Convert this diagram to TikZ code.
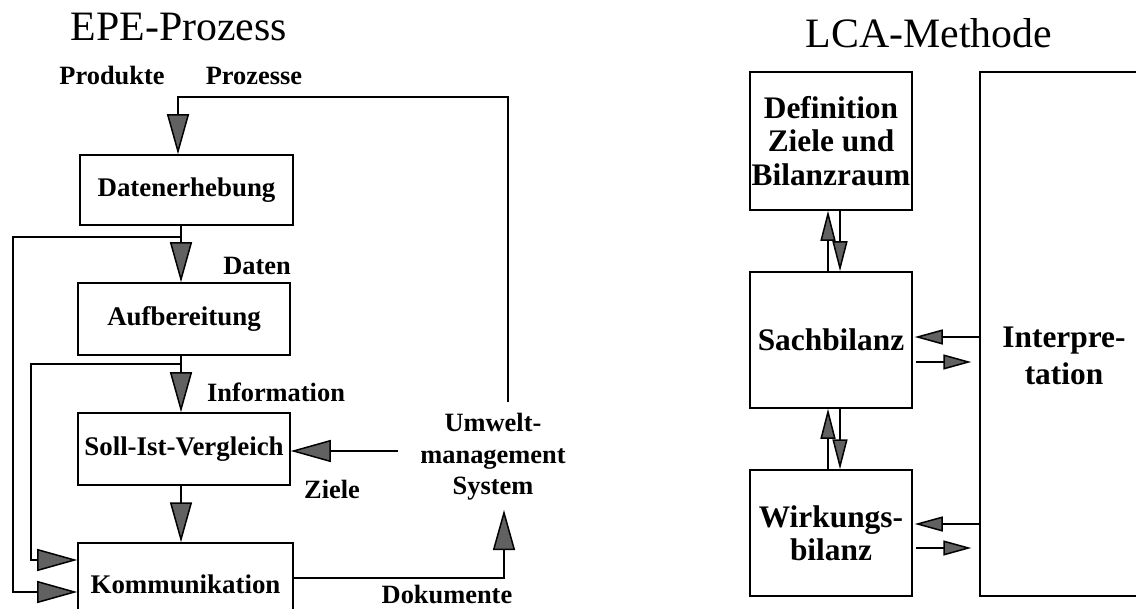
\documentclass[tikz,border=0pt]{standalone}
\usepackage{fontspec}
\setmainfont{Liberation Serif}
\usetikzlibrary{arrows.meta,calc}
\tikzset{
  ln/.style={line width=1.5bp},
  box/.style={draw, ln, inner sep=0pt, font=\bfseries\fontsize{27}{30}\selectfont},
  rbox/.style={draw, ln, inner sep=0pt, align=center, font=\bfseries\fontsize{31.5}{33.5}\selectfont},
  big/.style={ln, -{Triangle[length=40bp,width=22bp,fill=black!62]}},
  mid/.style={ln, -{Triangle[length=30bp,width=15bp,fill=black!62]}},
  small/.style={ln, -{Triangle[length=28bp,width=15bp,fill=black!62]}},
  lbl/.style={inner sep=0pt, font=\bfseries\fontsize{26.5}{31.5}\selectfont},
  rlbl/.style={inner sep=0pt, align=center, font=\bfseries\fontsize{31.5}{37}\selectfont},
  ttl/.style={inner sep=0pt, font=\fontsize{42}{46}\selectfont},
}
\begin{document}
\begin{tikzpicture}[x=1bp,y=-1bp]
\useasboundingbox (0,0) rectangle (1136,609);
\clip (0,0) rectangle (1136,609);

% ---------- left: EPE-Prozess ----------
\node[ttl] (t1) at (179,27) {EPE-Prozess};
\node[lbl] (prod) at (112,76) {Produkte};
\node[lbl] (proz) at (254,76) {Prozesse};

\node[box, minimum width=213bp, minimum height=70bp] (dat) at (186.5,190) {Datenerhebung};
\node[box, minimum width=212bp, minimum height=72bp] (auf) at (184,319) {Aufbereitung};
\node[box, minimum width=212bp, minimum height=72bp] (soll) at (184,449) {Soll-Ist-Vergleich};
\node[box, minimum width=215bp, minimum height=82bp] (kom) at (185.5,584) {Kommunikation};

\node[lbl, align=center] (ums) at (493,457) {Umwelt-\\management\\System};

\node[lbl] (ldaten) at (257,266) {Daten};
\node[lbl] (linfo) at (276,392) {Information};
\node[lbl] (lziele) at (332,489) {Ziele};
\node[lbl] (ldok) at (447,594) {Dokumente};

\coordinate (utop) at (508,402);
\coordinate (ptop) at (178,97);
\coordinate (j1) at (181,237);
\coordinate (j2) at (181,364);
\coordinate (l1) at (13,592);
\coordinate (l2) at (31,560);
\coordinate (zs) at (398,451);
\coordinate (dy) at (0,578);
\coordinate (dk) at (504,510);

\draw[big] (utop) |- (ptop) -- (ptop |- dat.north);
\draw[big] (dat.south -| j1) -- (auf.north -| j1);
\draw[big] (j1) -| (l1) -- (l1 -| kom.west);
\draw[big] (auf.south -| j2) -- (soll.north -| j2);
\draw[big] (j2) -| (l2) -- (l2 -| kom.west);
\draw[big] (soll.south -| j2) -- (kom.north -| j2);
\draw[big] (zs) -- (zs -| soll.east);
\draw[big] (kom.east |- dy) -| (dk);

% ---------- right: LCA-Methode ----------
\node[ttl] (t2) at (929,33) {LCA-Methode};

\node[rbox, minimum width=162bp, minimum height=138bp] (def) at (831,141) {Definition\\Ziele und\\Bilanzraum};
\node[rbox, minimum width=162bp, minimum height=136bp] (sach) at (831,340) {Sachbilanz};
\node[rbox, minimum width=162bp, minimum height=126bp] (wirk) at (831,533) {Wirkungs-\\bilanz};
\node[draw, ln, inner sep=0pt, minimum width=190bp, minimum height=524bp] (int) at (1075,334) {};
\node[rlbl] (intl) at (1064,356) {Interpre-\\tation};

\coordinate (u1) at (828,0);
\coordinate (d1) at (840,0);
\coordinate (h1) at (0,337);
\coordinate (h2) at (0,362);
\coordinate (h3) at (0,524);
\coordinate (h4) at (0,548);

\draw[mid] (sach.north -| u1) -- (def.south -| u1);
\draw[mid] (def.south -| d1) -- (sach.north -| d1);
\draw[mid] (wirk.north -| u1) -- (sach.south -| u1);
\draw[mid] (sach.south -| d1) -- (wirk.north -| d1);

\draw[small, shorten >=2bp] (int.west |- h1) -- (sach.east |- h1);
\draw[small, shorten <=3bp, shorten >=8bp] (sach.east |- h2) -- (int.west |- h2);
\draw[small, shorten >=2bp] (int.west |- h3) -- (wirk.east |- h3);
\draw[small, shorten <=3bp, shorten >=8bp] (wirk.east |- h4) -- (int.west |- h4);
\end{tikzpicture}
\end{document}
